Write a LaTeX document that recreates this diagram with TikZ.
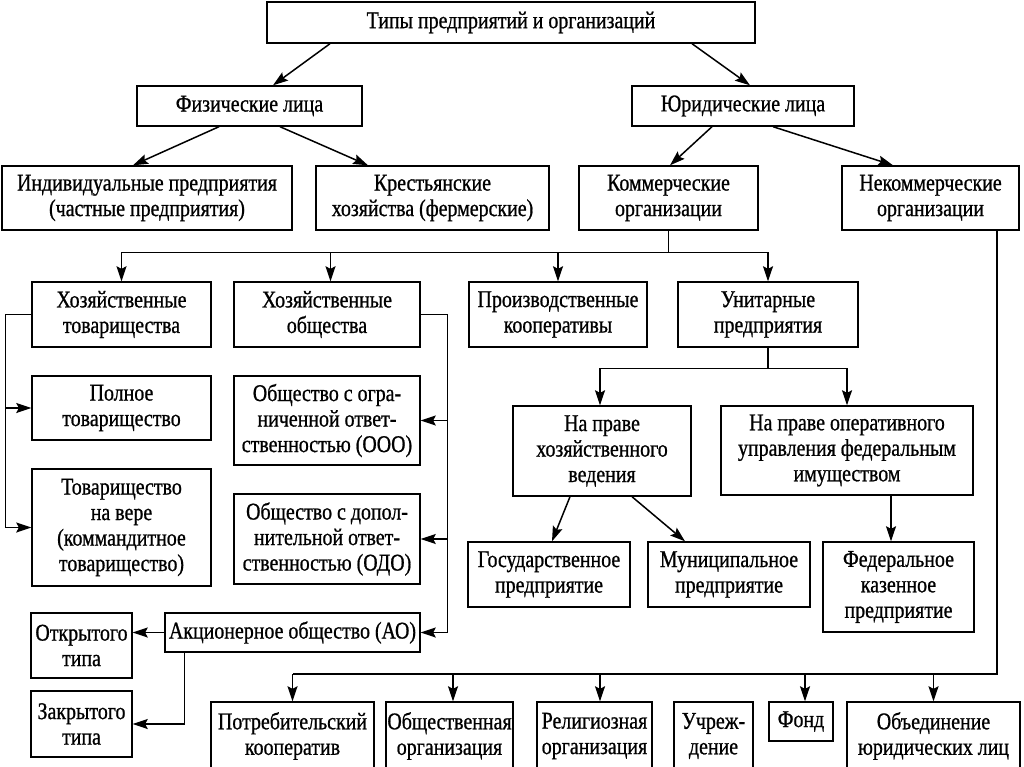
\documentclass[tikz,border=0pt]{standalone}
\usepackage{fontspec}
\setmainfont{Liberation Serif}[FakeStretch=0.83,FakeBold=0.8]
\usetikzlibrary{arrows.meta,calc}
\begin{document}
\begin{tikzpicture}[x=1pt,y=-1pt,
  box/.style={draw, line width=1.4pt, inner sep=0pt, align=center, font=\fontsize{24}{25.5}\selectfont},
  conn/.style={line width=1.5pt},
  arr/.style={conn, -{Stealth[length=15pt,width=10pt,inset=2.5pt]}}]
\fill[white] (0,0) rectangle (1024,767);
\useasboundingbox (0,0) rectangle (1024,767);
\clip (0,0) rectangle (1024,767);
% nodes
\node[box,minimum width=488pt,minimum height=41pt] (top) at (511,22.5) {Типы предприятий и организаций};
\node[box,minimum width=225pt,minimum height=40pt] (fiz) at (249.5,106) {Физические лица};
\node[box,minimum width=222pt,minimum height=40pt] (yur) at (743,106) {Юридические лица};
\node[box,minimum width=290pt,minimum height=64pt] (ind) at (147,198) {Индивидуальные предприятия\\(частные предприятия)};
\node[box,minimum width=233pt,minimum height=64pt] (krest) at (432.5,198) {Крестьянские\\хозяйства (фермерские)};
\node[box,minimum width=179pt,minimum height=64pt] (komm) at (668.5,198) {Коммерческие\\организации};
\node[box,minimum width=177pt,minimum height=64pt] (nekomm) at (930.5,198) {Некоммерческие\\организации};
\node[box,minimum width=179pt,minimum height=65pt] (hoztov) at (121.5,314.5) {Хозяйственные\\товарищества};
\node[box,minimum width=186pt,minimum height=65pt] (hozob) at (327,314.5) {Хозяйственные\\общества};
\node[box,minimum width=178pt,minimum height=65pt] (proizv) at (558,314.5) {Производственные\\кооперативы};
\node[box,minimum width=180pt,minimum height=65pt] (unit) at (768,314.5) {Унитарные\\предприятия};
\node[box,minimum width=179pt,minimum height=64pt] (poln) at (121.5,408) {Полное\\товарищество};
\node[box,minimum width=186pt,minimum height=89pt] (ooo) at (327,420.5) {Общество с огра-\\ниченной ответ-\\ственностью (ООО)};
\node[box,minimum width=179pt,minimum height=117pt] (navere) at (121.5,527.5) {Товарищество\\на вере\\(коммандитное\\товарищество)};
\node[box,minimum width=186pt,minimum height=90pt] (odo) at (327,539) {Общество с допол-\\нительной ответ-\\ственностью (ОДО)};
\node[box,minimum width=178pt,minimum height=90pt] (hozved) at (602,451) {На праве\\хозяйственного\\ведения};
\node[box,minimum width=252pt,minimum height=89pt] (oper) at (847,450.5) {На праве оперативного\\управления федеральным\\имуществом};
\node[box,minimum width=162pt,minimum height=65pt] (gos) at (549,574.5) {Государственное\\предприятие};
\node[box,minimum width=162pt,minimum height=65pt] (mun) at (729,574.5) {Муниципальное\\предприятие};
\node[box,minimum width=151pt,minimum height=90pt] (fed) at (898.5,587) {Федеральное\\казенное\\предприятие};
\node[box,minimum width=255pt,minimum height=39pt] (ao) at (292.5,632.5) {Акционерное общество (АО)};
\node[box,minimum width=101pt,minimum height=65pt] (otkr) at (81.5,645.5) {Открытого\\типа};
\node[box,minimum width=101pt,minimum height=66pt] (zakr) at (81.5,724) {Закрытого\\типа};
\node[box,minimum width=163pt,minimum height=68pt] (potreb) at (292.5,736) {Потребительский\\кооператив};
\node[box,minimum width=127pt,minimum height=68pt] (obsh) at (449.5,736) {Общественная\\организация};
\node[box,minimum width=115pt,minimum height=68pt] (relig) at (594.5,736) {Религиозная\\организация};
\node[box,minimum width=79pt,minimum height=68pt] (uchr) at (713.5,736) {Учреж-\\дение};
\node[box,minimum width=64pt,minimum height=39pt] (fond) at (801,721.5) {Фонд};
\node[box,minimum width=173pt,minimum height=68pt] (obed) at (933.5,736) {Объединение\\юридических лиц};
% connectors
\draw[arr] ([xshift=-181pt]top.south) -- ([xshift=23.5pt]fiz.north);
\draw[arr] ([xshift=181pt]top.south) -- ([xshift=7pt]yur.north);
\draw[arr] ([xshift=-30.5pt]fiz.south) -- ([xshift=-14pt]ind.north);
\draw[arr] ([xshift=30.5pt]fiz.south) -- ([xshift=-64.5pt]krest.north);
\draw[arr] ([xshift=-31pt]yur.south) -- ([xshift=1.5pt]komm.north);
\draw[arr] ([xshift=30pt]yur.south) -- ([xshift=-37.5pt]nekomm.north);
% commercial bus
\coordinate (kb) at ($(komm.south)+(0,22)$);
\draw[conn] (komm.south) -- (kb);
\draw[arr] (kb) -| (hoztov.north);
\draw[arr] (kb) -| ([xshift=3.5pt]hozob.north);
\draw[arr] (kb) -| (proizv.north);
\draw[arr] (kb) -| (unit.north);
% partnerships
\draw[arr] (hoztov.west) -- ++(-26,0) |- (poln.west);
\draw[arr] (hoztov.west) -- ++(-26,0) |- (navere.west);
% companies
\draw[arr] (hozob.east) -- ++(27,0) |- (ooo.east);
\draw[arr] (hozob.east) -- ++(27,0) |- (odo.east);
\draw[arr] (hozob.east) -- ++(27,0) |- (ao.east);
\draw[arr] (ao.west) -- (otkr.east |- ao.west);
\draw[arr] ([xshift=20pt]ao.south west) |- (zakr.east);
% unitary
\coordinate (ub) at ($(unit.south)+(0,21)$);
\draw[conn] (unit.south) -- (ub);
\draw[arr] (ub) -| ([xshift=-2pt]hozved.north);
\draw[arr] (ub) -| (oper.north);
\draw[arr] ([xshift=-32pt]hozved.south) -- ([xshift=3pt]gos.north);
\draw[arr] ([xshift=30pt]hozved.south) -- ([xshift=-44pt]mun.north);
\draw[arr] ([xshift=44pt]oper.south) -- ([xshift=44pt]oper.south |- fed.north);
% non-commercial bus
\coordinate (nb) at (997,674);
\draw[conn] (nekomm.south -| nb) -- (nb) -- (nb -| potreb.north);
\draw[arr] (nb -| potreb.north) -- (potreb.north);
\draw[arr] (nb -| {$(obsh.north)+(3.5,0)$}) -- ($(obsh.north)+(3.5,0)$);
\draw[arr] (nb -| {$(relig.north)+(5.5,0)$}) -- ($(relig.north)+(5.5,0)$);
\draw[arr] (nb -| {$(fond.north)+(4,0)$}) -- ($(fond.north)+(4,0)$);
\draw[arr] (nb -| obed.north) -- (obed.north);
\end{tikzpicture}
\end{document}
